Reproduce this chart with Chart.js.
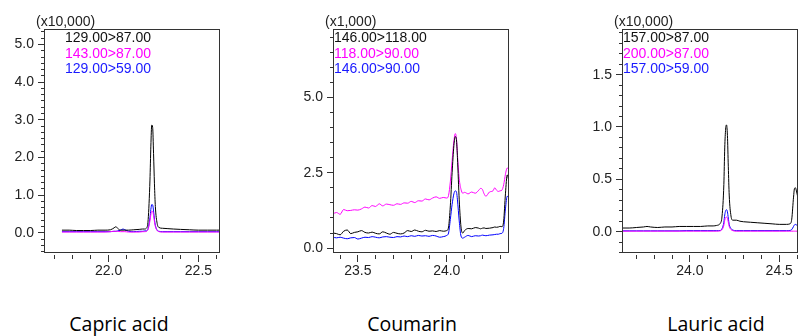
<!DOCTYPE html>
<html>
<head>
<meta charset="utf-8">
<script src="https://cdn.jsdelivr.net/npm/chart.js@4"></script>
<style>
  body { margin: 0; background: #fff; width: 799px; height: 336px; overflow: hidden; position: relative; }
  canvas { position: absolute; top: 0; }
  .caption { position: absolute; width: 200px; text-align: center; font-family: "Open Sans", "Noto Sans", sans-serif; font-weight: 400; font-size: 19.5px; line-height: 19.5px; color: #000; top: 314px; }
</style>
</head>
<body>
<canvas id="capricChart" width="230" height="300" style="left:0px"></canvas>
<canvas id="coumarinChart" width="240" height="300" style="left:270px"></canvas>
<canvas id="lauricChart" width="259" height="300" style="left:540px"></canvas>
<div class="caption" style="left:19px">Capric acid</div>
<div class="caption" style="left:312px">Coumarin</div>
<div class="caption" style="left:616px">Lauric acid</div>
<script>
// ---- Capric acid (x10,000) ----
const capricTime = [21.74, 21.78, 21.82, 21.86, 21.90, 21.94, 21.98, 22.01, 22.03, 22.04, 22.05, 22.065, 22.08, 22.09, 22.11, 22.14, 22.17, 22.19, 22.20, 22.21, 22.22, 22.23, 22.235, 22.24, 22.245, 22.25, 22.255, 22.26, 22.27, 22.28, 22.30, 22.33, 22.36, 22.40, 22.45, 22.50, 22.55, 22.60, 22.63];
const capricBlack = [0.07, 0.07, 0.06, 0.06, 0.06, 0.07, 0.07, 0.08, 0.13, 0.16, 0.12, 0.07, 0.07, 0.07, 0.07, 0.08, 0.09, 0.10, 0.10, 0.12, 0.35, 1.40, 2.30, 2.86, 2.80, 2.10, 1.30, 0.70, 0.25, 0.14, 0.12, 0.11, 0.10, 0.09, 0.08, 0.07, 0.07, 0.07, 0.07];
const capricMagenta = [0.02, 0.02, 0.02, 0.02, 0.02, 0.02, 0.02, 0.03, 0.04, 0.04, 0.04, 0.03, 0.03, 0.03, 0.02, 0.02, 0.02, 0.03, 0.03, 0.04, 0.10, 0.32, 0.48, 0.57, 0.57, 0.46, 0.30, 0.17, 0.06, 0.03, 0.02, 0.02, 0.02, 0.02, 0.02, 0.02, 0.02, 0.02, 0.02];
const capricBlue = [0.03, 0.03, 0.03, 0.03, 0.03, 0.03, 0.03, 0.03, 0.04, 0.04, 0.05, 0.07, 0.10, 0.08, 0.04, 0.03, 0.04, 0.04, 0.05, 0.05, 0.12, 0.40, 0.62, 0.75, 0.74, 0.58, 0.36, 0.20, 0.07, 0.04, 0.03, 0.03, 0.03, 0.03, 0.03, 0.03, 0.03, 0.03, 0.03];
const capricLabels = ["129.00>87.00", "143.00>87.00", "129.00>59.00"];
const capricXTicks = [22.0, 22.5];
const capricYTicks = [0, 1, 2, 3, 4, 5];

// ---- Coumarin (x1,000) ----
const coumarinTime = [23.36, 23.38, 23.40, 23.42, 23.44, 23.46, 23.48, 23.50, 23.52, 23.54, 23.56, 23.58, 23.60, 23.62, 23.64, 23.66, 23.68, 23.70, 23.72, 23.74, 23.76, 23.78, 23.80, 23.82, 23.84, 23.86, 23.88, 23.90, 23.92, 23.94, 23.96, 23.98, 24.00, 24.01, 24.02, 24.03, 24.04, 24.048, 24.055, 24.06, 24.07, 24.08, 24.09, 24.10, 24.12, 24.14, 24.16, 24.18, 24.19, 24.20, 24.21, 24.22, 24.24, 24.26, 24.27, 24.28, 24.29, 24.30, 24.31, 24.32, 24.33, 24.34, 24.35];
const coumarinBlack = [0.50, 0.48, 0.44, 0.56, 0.60, 0.48, 0.52, 0.54, 0.58, 0.52, 0.50, 0.53, 0.49, 0.47, 0.54, 0.50, 0.46, 0.52, 0.49, 0.47, 0.50, 0.58, 0.55, 0.60, 0.56, 0.54, 0.59, 0.56, 0.57, 0.55, 0.58, 0.56, 0.58, 0.70, 1.40, 2.50, 3.40, 3.70, 3.55, 3.00, 1.60, 0.70, 0.50, 0.58, 0.65, 0.64, 0.68, 0.66, 0.64, 0.66, 0.67, 0.65, 0.66, 0.68, 0.70, 0.69, 0.70, 0.72, 0.71, 0.90, 1.80, 2.43, 2.20];
const coumarinMagenta = [1.14, 1.18, 1.12, 1.28, 1.24, 1.25, 1.27, 1.26, 1.30, 1.36, 1.33, 1.41, 1.38, 1.47, 1.40, 1.46, 1.44, 1.42, 1.47, 1.45, 1.50, 1.49, 1.55, 1.51, 1.57, 1.56, 1.63, 1.60, 1.66, 1.70, 1.65, 1.68, 1.66, 1.75, 2.20, 2.90, 3.55, 3.80, 3.60, 3.10, 2.30, 1.95, 1.82, 1.85, 1.80, 1.86, 1.82, 1.92, 1.98, 1.95, 1.80, 1.72, 1.86, 1.90, 2.00, 1.92, 1.88, 1.90, 1.92, 2.10, 2.45, 2.66, 2.60];
const coumarinBlue = [0.36, 0.34, 0.36, 0.33, 0.31, 0.34, 0.35, 0.30, 0.33, 0.36, 0.35, 0.38, 0.36, 0.34, 0.37, 0.38, 0.36, 0.35, 0.38, 0.37, 0.40, 0.38, 0.41, 0.39, 0.42, 0.40, 0.41, 0.39, 0.42, 0.40, 0.36, 0.38, 0.42, 0.50, 0.95, 1.45, 1.80, 1.90, 1.85, 1.60, 0.90, 0.40, 0.33, 0.36, 0.42, 0.38, 0.41, 0.40, 0.41, 0.43, 0.42, 0.41, 0.43, 0.44, 0.45, 0.46, 0.46, 0.48, 0.49, 0.65, 1.30, 1.72, 1.68];
const coumarinLabels = ["146.00>118.00", "118.00>90.00", "146.00>90.00"];
const coumarinXTicks = [23.5, 24.0];
const coumarinYTicks = [0, 2.5, 5.0];

// ---- Lauric acid (x10,000) ----
const lauricTime = [23.62, 23.66, 23.70, 23.74, 23.76, 23.78, 23.82, 23.86, 23.90, 23.94, 23.98, 24.02, 24.06, 24.10, 24.13, 24.15, 24.17, 24.18, 24.19, 24.195, 24.20, 24.205, 24.21, 24.215, 24.22, 24.23, 24.24, 24.26, 24.28, 24.30, 24.34, 24.38, 24.42, 24.46, 24.50, 24.54, 24.56, 24.57, 24.58, 24.585, 24.59, 24.60, 24.61];
const lauricBlack = [0.035, 0.035, 0.04, 0.045, 0.05, 0.045, 0.04, 0.045, 0.045, 0.05, 0.05, 0.05, 0.05, 0.055, 0.055, 0.06, 0.08, 0.15, 0.45, 0.80, 0.98, 1.02, 0.92, 0.62, 0.35, 0.15, 0.11, 0.11, 0.10, 0.095, 0.09, 0.085, 0.08, 0.075, 0.07, 0.07, 0.075, 0.12, 0.33, 0.41, 0.42, 0.36, 0.28];
const lauricMagenta = [0.005, 0.005, 0.005, 0.005, 0.005, 0.005, 0.005, 0.005, 0.005, 0.005, 0.005, 0.005, 0.005, 0.005, 0.005, 0.005, 0.008, 0.02, 0.06, 0.11, 0.135, 0.14, 0.13, 0.09, 0.05, 0.02, 0.01, 0.005, 0.005, 0.005, 0.005, 0.005, 0.005, 0.005, 0.005, 0.005, 0.005, 0.005, 0.005, 0.005, 0.005, 0.005, 0.005];
const lauricBlue = [0.008, 0.008, 0.008, 0.008, 0.008, 0.008, 0.008, 0.008, 0.008, 0.008, 0.01, 0.01, 0.01, 0.01, 0.01, 0.01, 0.012, 0.03, 0.09, 0.16, 0.20, 0.21, 0.19, 0.13, 0.07, 0.03, 0.015, 0.01, 0.01, 0.01, 0.01, 0.01, 0.01, 0.01, 0.01, 0.01, 0.012, 0.02, 0.05, 0.065, 0.07, 0.06, 0.05];
const lauricLabels = ["157.00>87.00", "200.00>87.00", "157.00>59.00"];
const lauricXTicks = [24.0, 24.5];
const lauricYTicks = [0, 0.5, 1.0, 1.5];

const TEXT_FONT = { family: '"Liberation Sans", Arial, sans-serif', size: 14 };
const AXIS_COLOR = "#333";

function isMajor(list, v) {
  return list.some((m) => Math.abs(m - v) < 1e-6);
}

// minor ticks every step (as integer multiples, avoids float drift)
function tickRange(fromK, toK, step) {
  let out = [];
  for (let k = fromK; k <= toK; k++) out.push(k * step);
  return out;
}

const panelDecor = {
  id: "panelDecor",
  afterDraw(chart, args, opts) {
    const ctx = chart.ctx;
    const a = chart.chartArea;
    ctx.save();
    ctx.strokeStyle = AXIS_COLOR;
    ctx.lineWidth = 1;
    ctx.strokeRect(a.left + 0.5, a.top + 0.5, a.right - a.left - 1, a.bottom - a.top);
    ctx.font = '14px "Liberation Sans", Arial, sans-serif';
    ctx.textBaseline = "middle";
    ctx.textAlign = "left";
    ctx.fillStyle = "#222";
    ctx.fillText(opts.unit, a.left - 8, a.top - 7);
    chart.data.datasets.forEach((ds, i) => {
      ctx.fillStyle = ds.textColor;
      ctx.fillText(ds.label, a.left + opts.legendX, a.top + 9 + i * 15.7);
    });
    ctx.restore();
  },
};

function makeChart(id, cfg) {
  const colors = ["#000000", "#ff00ff", "#0000ff"];
  const textColors = ["#111111", "#ff00ff", "#1a1aff"];
  const series = [cfg.black, cfg.magenta, cfg.blue];
  return new Chart(document.getElementById(id), {
    type: "line",
    data: {
      datasets: series.map((vals, i) => ({
        label: cfg.labels[i],
        data: cfg.time.map((t, j) => ({ x: t, y: vals[j] })),
        borderColor: colors[i],
        textColor: textColors[i],
        borderWidth: 1,
        pointRadius: 0,
        cubicInterpolationMode: "monotone",
        fill: false,
      })),
    },
    plugins: [panelDecor],
    options: {
      responsive: false,
      animation: false,
      layout: { padding: { top: 29, right: cfg.padRight, bottom: 0, left: 0 } },
      plugins: {
        legend: { display: false },
        tooltip: { enabled: false },
        panelDecor: { unit: cfg.unit, legendX: cfg.legendX },
      },
      scales: {
        x: {
          type: "linear",
          min: cfg.xMin,
          max: cfg.xMax,
          afterBuildTicks: (scale) => {
            scale.ticks = cfg.xMinor.map((v) => ({ value: v }));
          },
          afterFit: (scale) => {
            scale.height = 48;
          },
          border: { display: false },
          grid: {
            drawOnChartArea: false,
            tickLength: 10,
            tickColor: AXIS_COLOR,
            tickBorderDash: (c) => (isMajor(cfg.xTicks, c.tick.value) ? [0, 3, 7, 100] : [0, 3, 4, 100]),
          },
          ticks: {
            autoSkip: false,
            maxRotation: 0,
            padding: 1,
            color: "#222",
            font: TEXT_FONT,
            callback: (v) => (isMajor(cfg.xTicks, v) ? v.toFixed(1) : ""),
          },
        },
        y: {
          min: cfg.yMin,
          max: cfg.yMax,
          afterBuildTicks: (scale) => {
            scale.ticks = cfg.yMinor.map((v) => ({ value: v }));
          },
          afterFit: (scale) => {
            scale.width = cfg.yWidth;
          },
          border: { display: false },
          grid: {
            drawOnChartArea: false,
            tickLength: 6,
            tickColor: AXIS_COLOR,
            tickBorderDash: (c) => (isMajor(cfg.yTicks, c.tick.value) ? [] : [0, 3, 3, 100]),
          },
          ticks: {
            autoSkip: false,
            padding: 4,
            color: "#222",
            font: TEXT_FONT,
            callback: (v) => (isMajor(cfg.yTicks, v) ? v.toFixed(1) : ""),
          },
        },
      },
    },
  });
}

makeChart("capricChart", {
  time: capricTime, black: capricBlack, magenta: capricMagenta, blue: capricBlue,
  labels: capricLabels, xTicks: capricXTicks, yTicks: capricYTicks,
  xMinor: tickRange(217, 226, 0.1), yMinor: tickRange(-3, 32, 1 / 6),
  xMin: 21.64, xMax: 22.62, yMin: -0.51, yMax: 5.41,
  yWidth: 44, padRight: 10, unit: "(x10,000)", legendX: 21,
});

makeChart("coumarinChart", {
  time: coumarinTime, black: coumarinBlack, magenta: coumarinMagenta, blue: coumarinBlue,
  labels: coumarinLabels, xTicks: coumarinXTicks, yTicks: coumarinYTicks,
  xMinor: tickRange(234, 243, 0.1), yMinor: tickRange(0, 14, 0.5),
  xMin: 23.36, xMax: 24.35, yMin: -0.13, yMax: 7.27,
  yWidth: 63, padRight: 1, unit: "(x1,000)", legendX: 1,
});

makeChart("lauricChart", {
  time: lauricTime, black: lauricBlack, magenta: lauricMagenta, blue: lauricBlue,
  labels: lauricLabels, xTicks: lauricXTicks, yTicks: lauricYTicks,
  xMinor: tickRange(237, 246, 0.1), yMinor: tickRange(-2, 19, 0.1),
  xMin: 23.62, xMax: 24.605, yMin: -0.194, yMax: 1.936,
  yWidth: 82, padRight: 1, unit: "(x10,000)", legendX: 1,
});
</script>
</body>
</html>
